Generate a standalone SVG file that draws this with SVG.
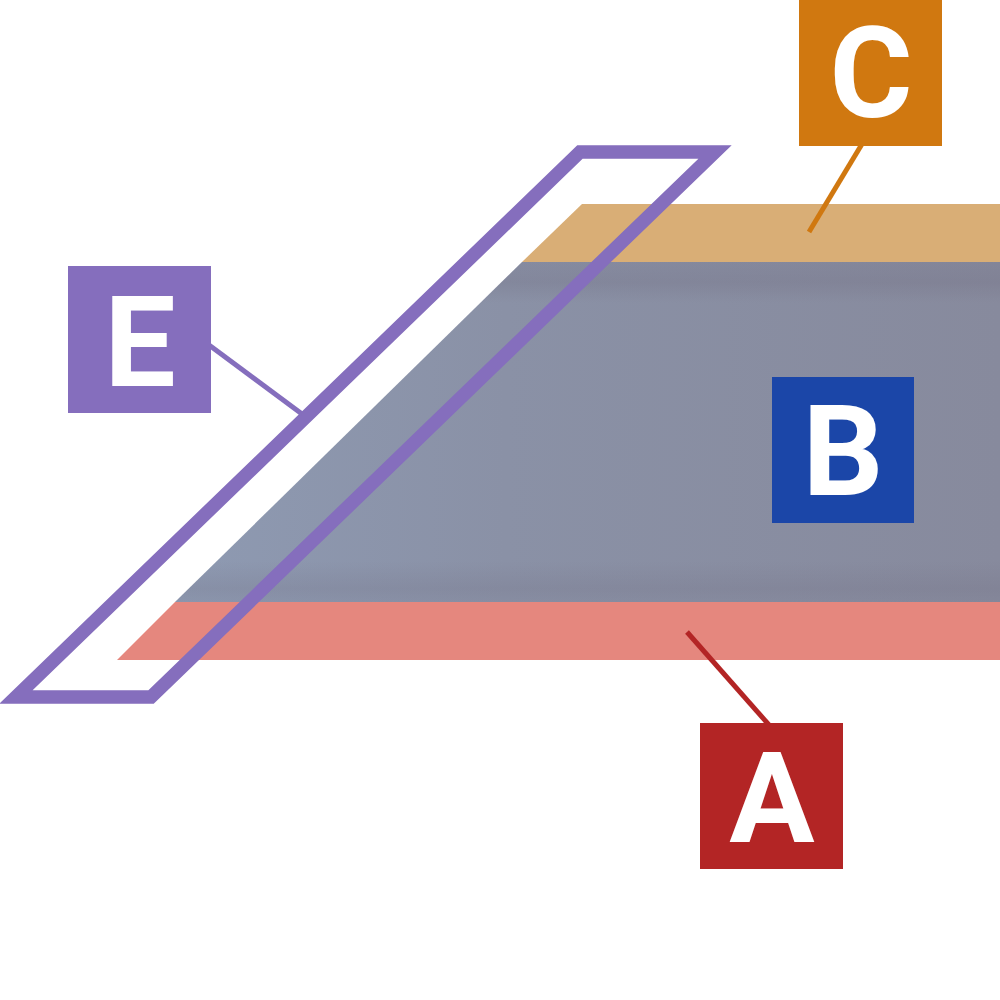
<svg xmlns="http://www.w3.org/2000/svg" width="1000" height="1000" viewBox="0 0 1000 1000">
<style>
.lbl{font-family:Roboto,"Liberation Sans",sans-serif;font-weight:bold;font-size:127px;fill:#ffffff;text-anchor:middle}
.lead{stroke-width:5;fill:none}
</style>
<defs>
<linearGradient id="gH" x1="175" y1="0" x2="1000" y2="0" gradientUnits="userSpaceOnUse">
<stop offset="0" stop-color="#8E9AB2"/>
<stop offset="0.4" stop-color="#8A91A6"/>
<stop offset="1" stop-color="#878A9D"/>
</linearGradient>
<linearGradient id="gV" x1="0" y1="262" x2="0" y2="602" gradientUnits="userSpaceOnUse">
<stop offset="0" stop-color="#6E6A7E" stop-opacity="0.15"/>
<stop offset="0.06" stop-color="#6E6A7E" stop-opacity="0.25"/>
<stop offset="0.12" stop-color="#6E6A7E" stop-opacity="0"/>
<stop offset="0.88" stop-color="#6E6A7E" stop-opacity="0"/>
<stop offset="0.96" stop-color="#6E6A7E" stop-opacity="0.2"/>
<stop offset="1" stop-color="#6E6A7E" stop-opacity="0.1"/>
</linearGradient>
</defs>
<rect width="1000" height="1000" fill="#ffffff"/>
<g id="layers">
<polygon id="layer-C" points="582,204 1000,204 1000,262 522,262" fill="#D9AE76"/>
<polygon id="layer-B" points="522,262 1000,262 1000,602 175,602" fill="url(#gH)"/>
<polygon points="522,262 1000,262 1000,602 175,602" fill="url(#gV)"/>
<polygon id="layer-A" points="175,602 1000,602 1000,660 117,660" fill="#E5877E"/>
</g>
<g id="node-E-outline">
<polygon points="580,152 715,152 151,697 16,697" fill="none" stroke="#856EBD" stroke-width="13.5" stroke-linejoin="miter"/>
</g>
<g id="connectors">
<line class="lead" x1="862" y1="144" x2="809" y2="232" stroke="#D07810"/>
<line class="lead" x1="209" y1="345" x2="302" y2="414" stroke="#856EBD"/>
<line class="lead" x1="687" y1="632" x2="769" y2="725" stroke="#B32525"/>
</g>
<g id="node-C">
<rect x="799" y="0" width="143" height="146" fill="#D07810"/>
<text class="lbl" x="871" y="117">C</text>
</g>
<g id="node-E">
<rect x="68" y="266" width="143" height="147" fill="#856EBD"/>
<text class="lbl" x="140" y="386">E</text>
</g>
<g id="node-B">
<rect x="772" y="377" width="142" height="146" fill="#1B46A8"/>
<text class="lbl" x="843" y="495">B</text>
</g>
<g id="node-A">
<rect x="700" y="723" width="143" height="146" fill="#B32525"/>
<text class="lbl" x="772" y="842">A</text>
</g>
</svg>
